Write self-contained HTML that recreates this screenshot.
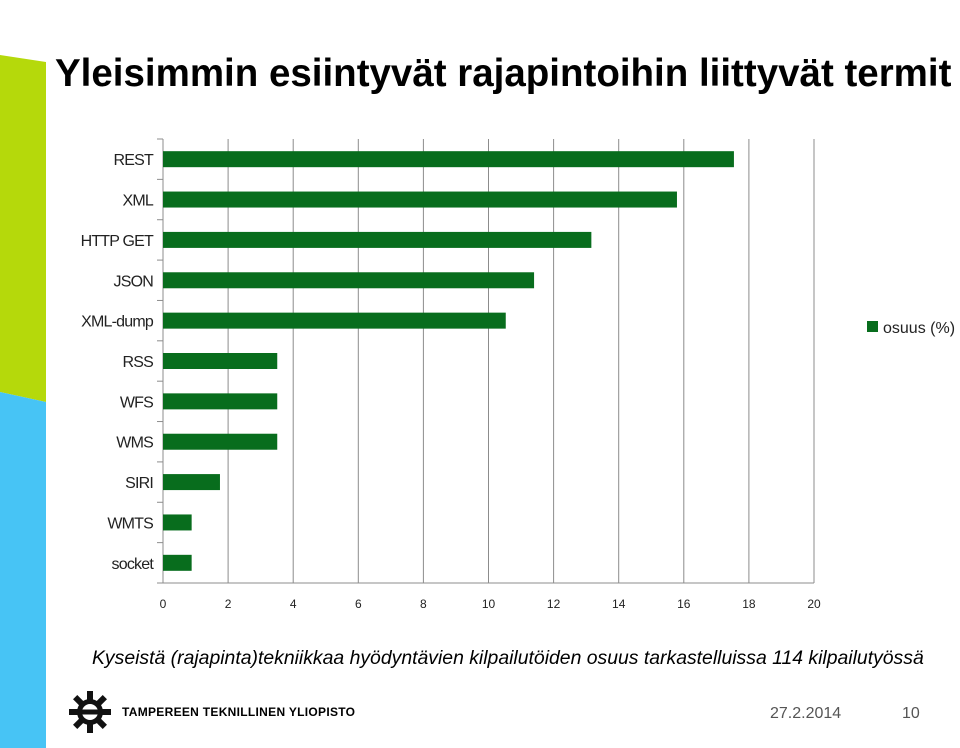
<!DOCTYPE html>
<html><head><meta charset="utf-8"><style>
body{margin:0;width:960px;height:748px;position:relative;background:#fff;font-family:"Liberation Sans",sans-serif;overflow:hidden}
.abs{position:absolute}
</style></head><body>
<svg class="abs" style="left:0;top:0" width="960" height="748">
<polygon points="0,55 46,62 46,402 0,392" fill="#b5d90b"/>
<polygon points="0,392 46,402 46,748 0,748" fill="#47c4f5"/>
</svg>
<div class="abs" style="left:55px;top:52px;font-size:38.5px;font-weight:bold;white-space:nowrap">Yleisimmin esiintyvät rajapintoihin liittyvät termit</div>
<svg id="chart" class="abs" style="left:0;top:0" width="960" height="640"></svg>
<div class="abs" style="left:92px;top:647px;font-size:19.4px;font-style:italic;white-space:nowrap">Kyseistä (rajapinta)tekniikkaa hyödyntävien kilpailutöiden osuus tarkastelluissa 114 kilpailutyössä</div>
<svg class="abs" style="left:68px;top:690px" width="44" height="44" viewBox="-22 -22 44 44">
<g fill="#111">
<circle r="13"/>
<rect x="-3" y="-21" width="6" height="9"/><rect x="-3" y="12" width="6" height="9"/>
<rect x="-21" y="-3" width="9" height="6"/><rect x="12" y="-3" width="9" height="6"/>
<rect x="-3" y="-21" width="6" height="9" transform="rotate(45)"/><rect x="-3" y="-21" width="6" height="9" transform="rotate(-45)"/>
<rect x="-3" y="12" width="6" height="9" transform="rotate(45)"/><rect x="-3" y="12" width="6" height="9" transform="rotate(-45)"/>
</g>
<circle r="8" fill="#fff"/><rect x="-11" y="-2.5" width="22" height="5" fill="#111"/>
</svg>
<div class="abs" style="left:122px;top:705px;font-size:12px;font-weight:bold;letter-spacing:0.3px;white-space:nowrap">TAMPEREEN TEKNILLINEN YLIOPISTO</div>
<div class="abs" style="left:770px;top:705px;font-size:16px;color:#555">27.2.2014</div>
<div class="abs" style="left:902px;top:705px;font-size:16px;color:#555">10</div>
<script>
const categories=["REST","XML","HTTP GET","JSON","XML-dump","RSS","WFS","WMS","SIRI","WMTS","socket"];
const values=[17.54,15.79,13.16,11.40,10.53,3.51,3.51,3.51,1.75,0.88,0.88];
const xTicks=[0,2,4,6,8,10,12,14,16,18,20];
const seriesName="osuus (%)";
const NS="http://www.w3.org/2000/svg";
const svg=document.getElementById('chart');
const x0=163,x1=814,plotTop=139,plotBot=583;
const xs=v=>x0+(v-0)/(20-0)*(x1-x0);
const band=(plotBot-plotTop)/categories.length;
const yc=i=>plotTop+band*(i+0.5);
function mk(t,a){const e=document.createElementNS(NS,t);for(const k in a)e.setAttribute(k,a[k]);svg.appendChild(e);return e;}
xTicks.forEach(t=>{
 if(t>0){const g=mk('line',{x1:xs(t),x2:xs(t),y1:plotTop,y2:plotBot,stroke:'#8c8c8c','stroke-width':1});
 
 }
 const l=mk('text',{x:xs(t),y:plotBot+25,'text-anchor':'middle','font-size':12,fill:'#222'});
 l.textContent=t;
 
 
});
const ax=mk('line',{x1:x0,x2:x0,y1:plotTop,y2:plotBot,stroke:'#8c8c8c'});


const axx=mk('line',{x1:x0,x2:x1,y1:plotBot,y2:plotBot,stroke:'#8c8c8c'});


for(let i=0;i<=categories.length;i++){
 const t=mk('line',{x1:x0-6,x2:x0,y1:plotTop+band*i,y2:plotTop+band*i,stroke:'#8c8c8c'});
 
 
}
categories.forEach((c,i)=>{
 const b=mk('rect',{x:x0,y:yc(i)-8,width:xs(values[i])-x0,height:16,fill:'#086d1d'});
 
 
 const l=mk('text',{x:x0-10,y:yc(i)+6,'text-anchor':'end','font-size':16,fill:'#222','letter-spacing':'-0.8'});
 l.textContent=c;
 
 
});
const lr=mk('rect',{x:867,y:321,width:11,height:11,fill:'#086d1d'});


const lt=mk('text',{x:883,y:333,'font-size':16,fill:'#222'});
lt.textContent=seriesName;


</script>
</body></html>
